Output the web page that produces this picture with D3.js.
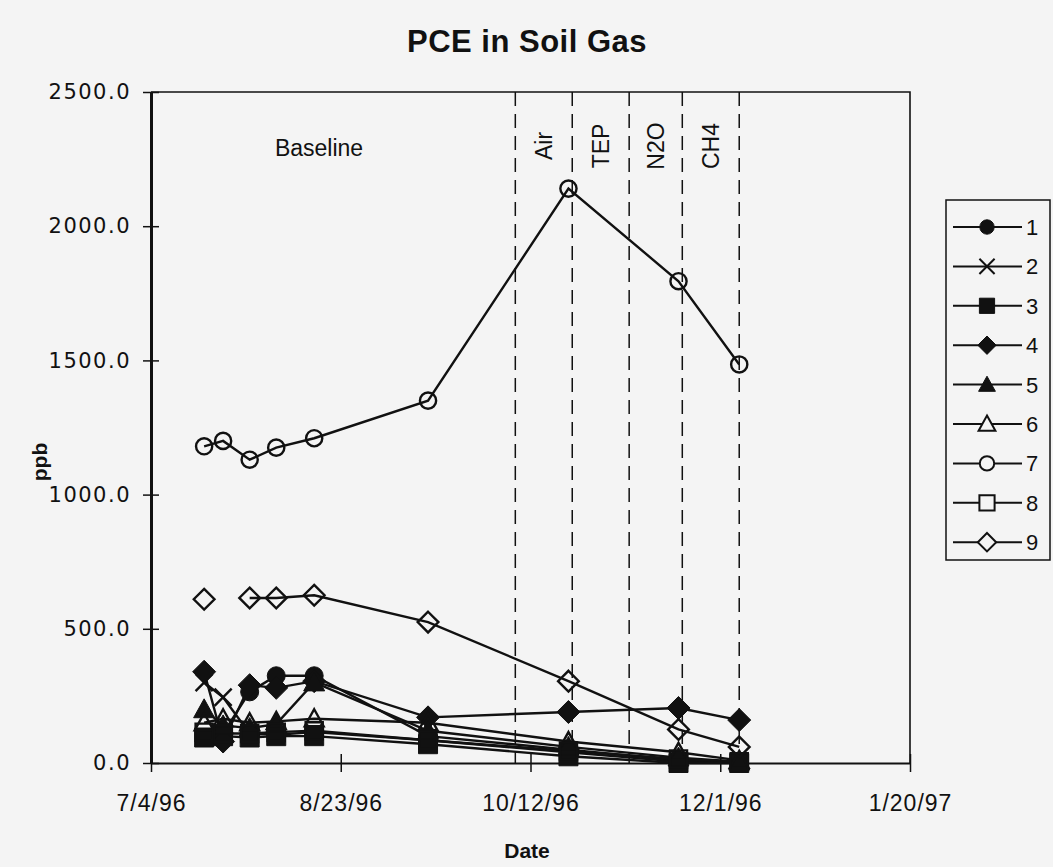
<!DOCTYPE html>
<html>
<head>
<meta charset="utf-8">
<script src="https://cdn.jsdelivr.net/npm/d3@7"></script>
<style>
  body { margin: 0; background: #f4f4f4; }
  svg { display: block; }
</style>
</head>
<body>
<div id="chart"></div>
<script>
// Sampling dates and PCE readings (ppb) per probe
const sampleDates = ["7/18/96", "7/23/96", "7/30/96", "8/6/96", "8/16/96", "9/15/96", "10/22/96", "11/20/96", "12/6/96"];
const probe1 = [null, 110, 265, 325, 325, 100, 50, 10, 0];
const probe2 = [300, 245, 110, 105, 115, 85, 40, 5, 0];
const probe3 = [95, 100, 95, 100, 100, 70, 25, 0, 0];
const probe4 = [340, 80, 290, 280, 305, 170, 190, 205, 160];
const probe5 = [200, 140, 130, 145, 300, 120, 60, 20, 5];
const probe6 = [150, 165, 150, 155, 165, 150, 80, 40, 10];
const probe7 = [1180, 1200, 1130, 1175, 1210, 1350, 2140, 1795, 1485];
const probe8 = [115, 110, 110, 115, 120, 85, 45, 15, 5];
const probe9 = [610, null, 615, 615, 625, 525, 305, 125, 60];
const probeNames = ["1", "2", "3", "4", "5", "6", "7", "8", "9"];

// Treatment phase boundaries and their labels
const phaseDates = ["10/8/96", "10/23/96", "11/7/96", "11/21/96", "12/6/96"];
const phaseLabels = ["Air", "TEP", "N2O", "CH4"];

// Axis ticks
const xTickDates = ["7/4/96", "8/23/96", "10/12/96", "12/1/96", "1/20/97"];
const yTickValues = [0, 500, 1000, 1500, 2000, 2500];

const drawChart = () => {

  /*******************************/
  /*    Declare the constants    */
  /*******************************/
  const width = 1053;
  const height = 867;
  const plot = {left: 151, right: 910, top: 92, bottom: 763};
  const parseDate = d3.timeParse("%m/%d/%y");

  const allProbes = [probe1, probe2, probe3, probe4, probe5, probe6, probe7, probe8, probe9];
  const markerKinds = ["circle", "x", "square", "diamond", "triangle", "triangle", "circle", "square", "diamond"];
  const markerFilled = [true, false, true, true, true, false, false, false, false];

  const series = allProbes.map((values, i) => ({
    name: probeNames[i],
    kind: markerKinds[i],
    filled: markerFilled[i],
    points: values.map((v, j) => ({date: parseDate(sampleDates[j]), value: v}))
  }));


  /*******************************/
  /*    Append the containers    */
  /*******************************/
  const svg = d3.select("#chart")
    .append("svg")
      .attr("width", width)
      .attr("height", height)
      .style("font-family", "'Liberation Sans', Arial, sans-serif");

  svg
    .append("rect")
      .attr("width", width)
      .attr("height", height)
      .attr("fill", "#f4f4f4");


  /****************************/
  /*    Declare the scales    */
  /****************************/
  const xScale = d3.scaleTime()
    .domain([parseDate("7/4/96"), parseDate("1/20/97")])
    .range([plot.left, plot.right]);

  const yScale = d3.scaleLinear()
    .domain([0, 2500])
    .range([plot.bottom, plot.top]);


  /**************************/
  /*      Add the axes      */
  /**************************/
  // Plot frame (top and right edges)
  svg
    .append("path")
      .attr("d", `M${plot.left},${plot.top} H${plot.right} V${plot.bottom}`)
      .attr("fill", "none")
      .attr("stroke", "#111")
      .attr("stroke-width", 1.6);

  const bottomAxis = d3.axisBottom(xScale)
    .tickValues(xTickDates.map(parseDate))
    .tickFormat(d3.timeFormat("%-m/%-d/%y"))
    .tickSize(9)
    .tickSizeOuter(0)
    .tickPadding(23);
  const xAxisGroup = svg
    .append("g")
      .attr("transform", `translate(0, ${plot.bottom})`)
      .call(bottomAxis);
  xAxisGroup.select(".domain").attr("stroke", "#111").attr("stroke-width", 2);
  xAxisGroup.selectAll(".tick line").attr("y1", -9).attr("stroke", "#111").attr("stroke-width", 1.5);
  xAxisGroup.selectAll(".tick text")
    .attr("fill", "#111")
    .style("font-size", "23px")
    .style("letter-spacing", "1px");

  const leftAxis = d3.axisLeft(yScale)
    .tickValues(yTickValues)
    .tickFormat(d3.format(".1f"))
    .tickSize(8)
    .tickSizeOuter(0)
    .tickPadding(12);
  const yAxisGroup = svg
    .append("g")
      .attr("transform", `translate(${plot.left}, 0)`)
      .call(leftAxis);
  yAxisGroup.select(".domain").attr("stroke", "#111").attr("stroke-width", 3);
  yAxisGroup.selectAll(".tick line").attr("x2", 8).attr("x1", -8).attr("stroke", "#111").attr("stroke-width", 1.5);
  yAxisGroup.selectAll(".tick text")
    .attr("fill", "#111")
    .style("font-family", "'DejaVu Sans', sans-serif")
    .style("font-size", "21px")
    .style("letter-spacing", "1.5px");

  // Axis titles and chart title
  svg
    .append("text")
      .text("PCE in Soil Gas")
      .attr("x", 527)
      .attr("y", 52)
      .attr("text-anchor", "middle")
      .style("font-size", "31px")
      .style("font-weight", "bold")
      .style("letter-spacing", "0.5px")
      .attr("fill", "#111");
  svg
    .append("text")
      .text("Date")
      .attr("x", 527)
      .attr("y", 858)
      .attr("text-anchor", "middle")
      .style("font-size", "21px")
      .style("font-weight", "bold")
      .attr("fill", "#111");
  svg
    .append("text")
      .text("ppb")
      .attr("transform", "translate(47, 462) rotate(-90)")
      .attr("text-anchor", "middle")
      .style("font-size", "21px")
      .style("font-weight", "bold")
      .attr("fill", "#111");


  /**************************************/
  /*      Add the treatment phases      */
  /**************************************/
  svg
    .append("g")
    .selectAll("line")
    .data(phaseDates)
    .join("line")
      .attr("x1", d => xScale(parseDate(d)))
      .attr("x2", d => xScale(parseDate(d)))
      .attr("y1", plot.top)
      .attr("y2", plot.bottom)
      .attr("stroke", "#111")
      .attr("stroke-width", 1.5)
      .attr("stroke-dasharray", "14,8");

  svg
    .append("g")
    .selectAll("text")
    .data(phaseLabels)
    .join("text")
      .text(d => d)
      .attr("transform", (d, i) => {
        const mid = (xScale(parseDate(phaseDates[i])) + xScale(parseDate(phaseDates[i + 1]))) / 2;
        return `translate(${mid + 8}, 146) rotate(-90)`;
      })
      .attr("text-anchor", "middle")
      .style("font-size", "23px")
      .attr("fill", "#111");

  svg
    .append("text")
      .text("Baseline")
      .attr("x", 319)
      .attr("y", 156)
      .attr("text-anchor", "middle")
      .style("font-size", "23px")
      .attr("fill", "#111");


  /******************************/
  /*      Add the series        */
  /******************************/
  const markerPath = (kind, s) => {
    switch (kind) {
      case "square": return `M${-s},${-s}H${s}V${s}H${-s}Z`;
      case "diamond": return `M0,${-s}L${s},0L0,${s}L${-s},0Z`;
      case "triangle": return `M0,${-s}L${s},${s * 0.8}L${-s},${s * 0.8}Z`;
      case "x": return `M${-s},${-s}L${s},${s}M${-s},${s}L${s},${-s}`;
      default: return d3.arc()({innerRadius: 0, outerRadius: s, startAngle: 0, endAngle: 2 * Math.PI});
    }
  };
  const markerSize = {circle: 9, square: 9.5, diamond: 11.5, triangle: 10.5, x: 9.5};

  const line = d3.line()
    .defined(d => d.value !== null)
    .x(d => xScale(d.date))
    .y(d => yScale(d.value));

  const seriesGroup = svg.append("g");
  series.forEach(s => {
    seriesGroup
      .append("path")
        .attr("d", line(s.points))
        .attr("fill", "none")
        .attr("stroke", "#111")
        .attr("stroke-width", 2.4);
  });
  series.forEach(s => {
    const size = s.filled ? markerSize[s.kind] : markerSize[s.kind] * 0.9;
    seriesGroup
      .append("g")
      .selectAll("path")
      .data(s.points.filter(d => d.value !== null))
      .join("path")
        .attr("transform", d => `translate(${xScale(d.date)}, ${yScale(d.value)})`)
        .attr("d", markerPath(s.kind, size))
        .attr("fill", s.filled ? "#111" : "none")
        .attr("stroke", "#111")
        .attr("stroke-width", s.filled ? 1 : 2.4);
  });


  /*************************/
  /*      Add legend       */
  /*************************/
  const legend = svg
    .append("g")
      .attr("transform", "translate(946, 200)");
  legend
    .append("rect")
      .attr("width", 104)
      .attr("height", 360)
      .attr("fill", "#f4f4f4")
      .attr("stroke", "#111")
      .attr("stroke-width", 1.5);

  const legendItems = legend
    .selectAll("g")
    .data(series)
    .join("g")
      .attr("transform", (d, i) => `translate(0, ${27 + i * 39.4})`);
  legendItems
    .append("line")
      .attr("x1", 7)
      .attr("x2", 76)
      .attr("stroke", "#111")
      .attr("stroke-width", 2);
  legendItems
    .append("path")
      .attr("transform", "translate(41, 0)")
      .attr("d", d => markerPath(d.kind, markerSize[d.kind] * 0.8))
      .attr("fill", d => d.filled ? "#111" : "#f4f4f4")
      .attr("stroke", "#111")
      .attr("stroke-width", d => d.filled ? 1 : 2);
  legendItems
    .append("text")
      .text(d => d.name)
      .attr("x", 80)
      .attr("y", 8)
      .style("font-size", "22px")
      .attr("fill", "#111");

};

drawChart();
</script>
</body>
</html>
